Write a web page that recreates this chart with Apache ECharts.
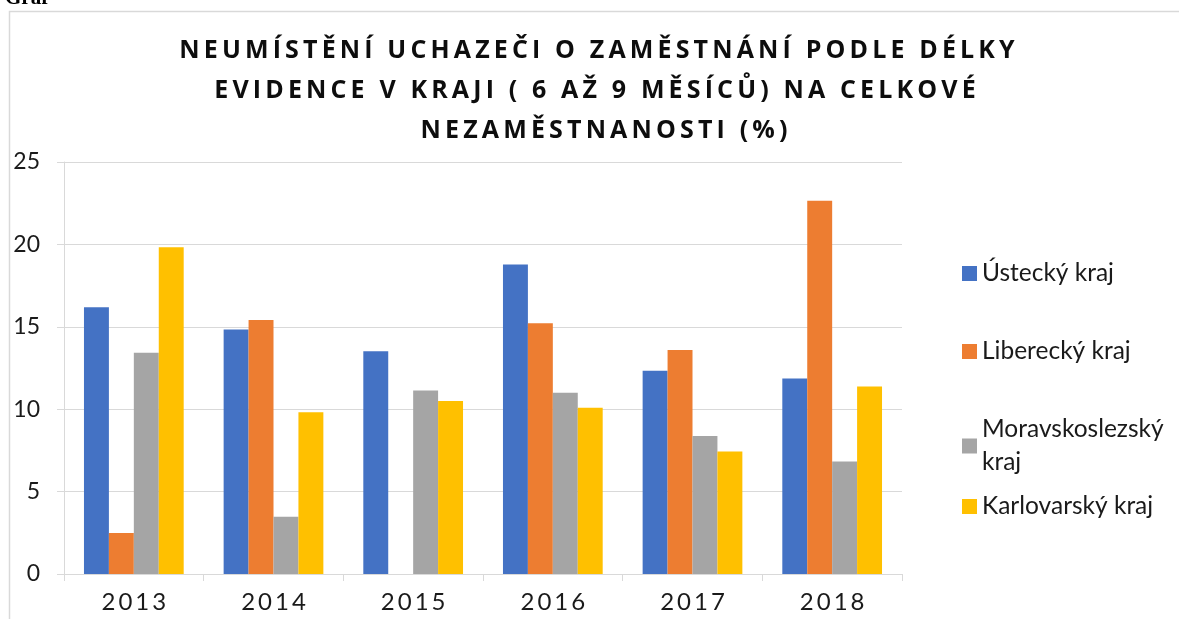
<!DOCTYPE html>
<html>
<head>
<meta charset="utf-8">
<script src="https://cdn.jsdelivr.net/npm/echarts@6/dist/echarts.min.js"></script>
<style>
  html, body { margin: 0; padding: 0; background: #fff; }
  #chart { width: 1179px; height: 619px; }
</style>
</head>
<body>
<div id="chart"></div>
<script>
const years = ["2013", "2014", "2015", "2016", "2017", "2018"];
const ustecky = [16.18, 14.83, 13.51, 18.78, 12.34, 11.87];
const liberecky = [2.49, 15.41, 0, 15.22, 13.59, 22.65];
const moravskoslezsky = [13.43, 3.48, 11.14, 11.0, 8.37, 6.82];
const karlovarsky = [19.82, 9.81, 10.49, 10.09, 7.43, 11.37];
const seriesNames = ["Ústecký kraj", "Liberecký kraj", "Moravskoslezský kraj", "Karlovarský kraj"];
const colors = ["#4472C4", "#ED7D31", "#A5A5A5", "#FFC000"];
const titleLines = [
  "NEUMÍSTĚNÍ UCHAZEČI O ZAMĚSTNÁNÍ PODLE DÉLKY",
  "EVIDENCE V KRAJI ( 6 AŽ 9 MĚSÍCŮ) NA CELKOVÉ",
  "NEZAMĚSTNANOSTI (%)"
];

// fake letter spacing with thin spaces
function spaced(str, gap) {
  return str.split("").join(gap);
}

const chart = echarts.init(document.getElementById("chart"));

const font = "Lato, 'Open Sans', sans-serif";
const legendTops = [257, 335, 413, 490];
const titleX = [597, 595, 604];
const titleY = [51, 91, 131];

const option = {
  animation: false,
  color: colors,
  grid: { left: 64, right: 277, top: 162, bottom: 45 },
  legend: seriesNames.map((name, i) => ({
    data: [name],
    orient: "vertical",
    left: 962,
    top: legendTops[i],
    padding: 0,
    itemWidth: 15,
    itemHeight: 15,
    icon: "rect",
    formatter: (n) => (n === "Moravskoslezský kraj" ? "Moravskoslezský\nkraj" : n),
    textStyle: { fontFamily: font, fontSize: 24.5, color: "#1a1a1a", lineHeight: 33 }
  })),
  xAxis: {
    type: "category",
    data: years,
    axisLine: { lineStyle: { color: "#d9d9d9", width: 1 } },
    axisTick: { show: true, interval: 0, length: 7, lineStyle: { color: "#d9d9d9" } },
    axisLabel: {
      margin: 16,
      fontFamily: font,
      fontSize: 24,
      color: "#1a1a1a",
      formatter: (v) => spaced(v, "\u2009")
    }
  },
  yAxis: {
    type: "value",
    min: 0,
    max: 25,
    interval: 5,
    axisLine: { show: true, lineStyle: { color: "#d9d9d9", width: 1 } },
    axisTick: { show: true, length: 7, lineStyle: { color: "#d9d9d9" } },
    splitLine: { lineStyle: { color: "#d9d9d9", width: 1 } },
    axisLabel: { margin: 24, fontFamily: font, fontSize: 23, color: "#1a1a1a" }
  },
  series: [ustecky, liberecky, moravskoslezsky, karlovarsky].map((data, i) => ({
    name: seriesNames[i],
    type: "bar",
    data: data,
    barGap: "0%",
    barCategoryGap: "28.6%"
  })),
  graphic: [
    {
      type: "rect",
      silent: true,
      shape: { x: 9.5, y: 11.5, width: 1300, height: 700 },
      style: { fill: "none", stroke: "#d9d9d9", lineWidth: 1.5 }
    },
    {
      type: "text",
      silent: true,
      style: {
        x: 5, y: 9,
        text: "Graf",
        font: "bold 21px 'Liberation Serif', serif",
        fill: "#000",
        verticalAlign: "bottom"
      }
    }
  ].concat(titleLines.map((t, i) => ({
    type: "text",
    silent: true,
    style: {
      x: titleX[i],
      y: titleY[i],
      text: spaced(t, "\u2009"),
      font: "bold 25px 'Open Sans', sans-serif",
      fill: "#0d0d0d",
      align: "center",
      verticalAlign: "middle"
    }
  })))
};

chart.setOption(option);
</script>
</body>
</html>
